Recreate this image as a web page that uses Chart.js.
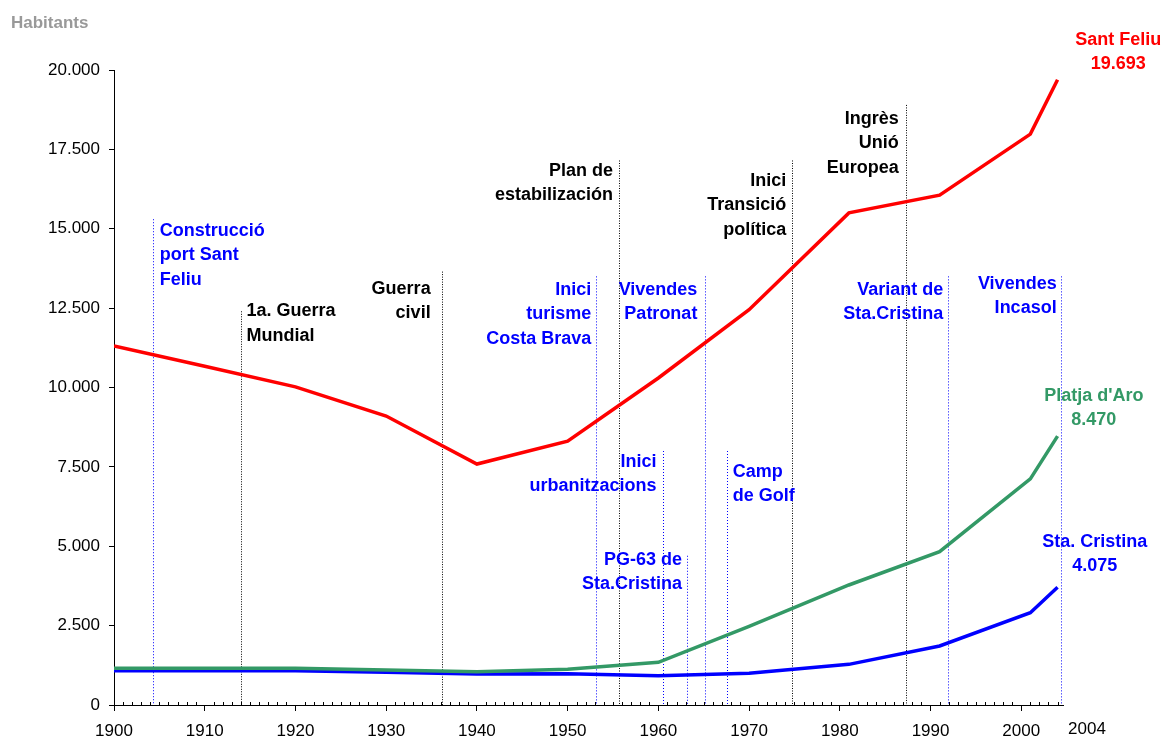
<!DOCTYPE html>
<html lang="ca">
<head>
    <meta charset="UTF-8">
    <title>Habitants Sant Feliu, Platja d'Aro, Sta. Cristina</title>
    <script src="https://cdn.jsdelivr.net/npm/chart.js"></script>
    <style>
        body { margin: 0; background: #ffffff; }
        #wrap { width: 1163px; height: 737px; }
    </style>
</head>
<body>
    <div id="wrap"><canvas id="popChart" width="1163" height="737"></canvas></div>

    <script>
        // census years and population per municipality
        const years = [1900, 1910, 1920, 1930, 1940, 1950, 1960, 1970, 1981, 1991, 2001, 2004];
        const santFeliu = [11310, 10670, 10020, 9100, 7590, 8310, 10300, 12450, 15500, 16060, 17980, 19693];
        const platjaDaro = [1160, 1160, 1160, 1105, 1050, 1125, 1345, 2480, 3780, 4830, 7120, 8470];
        const staCristina = [1080, 1080, 1080, 1030, 975, 985, 925, 1000, 1280, 1860, 2905, 3710];

        const xTicks = [1900, 1910, 1920, 1930, 1940, 1950, 1960, 1970, 1980, 1990, 2000];
        const lastYearLabel = '2004';

        // historical events: year of the dotted line, how high it goes, text
        const eventYears = [1904.3, 1914.0, 1936.2, 1955.7, 1953.1, 1965.1, 1960.5, 1963.2, 1967.6, 1974.7, 1987.3, 1991.9, 2004.4];
        const eventTops = [15300, 12400, 13650, 17150, 13500, 13500, 8000, 4700, 8000, 17150, 18900, 13500, 13500];
        const eventLabels = [
            ['Construcció', 'port Sant', 'Feliu'],
            ['1a. Guerra', 'Mundial'],
            ['Guerra', 'civil'],
            ['Plan de', 'estabilización'],
            ['Inici', 'turisme', 'Costa Brava'],
            ['Vivendes', 'Patronat'],
            ['Inici', 'urbanitzacions'],
            ['PG-63 de', 'Sta.Cristina'],
            ['Camp', 'de Golf'],
            ['Inici', 'Transició', 'política'],
            ['Ingrès', 'Unió', 'Europea'],
            ['Variant de', 'Sta.Cristina'],
            ['Vivendes', 'Incasol']
        ];
        const eventKind = ['local', 'world', 'world', 'world', 'local', 'local', 'local', 'local', 'local', 'world', 'world', 'local', 'local'];
        const labelYears = [1905.05, 1914.6, 1934.9, 1955.0, 1952.6, 1964.3, 1959.8, 1962.6, 1968.2, 1974.1, 1986.5, 1991.4, 2003.9];
        const labelValues = [14929, 12395, 13102, 16819, 13071, 13071, 7654, 4567, 7339, 16504, 18457, 13071, 13260];
        const labelAlign = ['left', 'left', 'right', 'right', 'right', 'right', 'right', 'right', 'left', 'right', 'right', 'right', 'right'];

        // end-of-series labels
        const seriesNames = ['Sant Feliu', "Platja d'Aro", 'Sta. Cristina'];
        const seriesFinal = ['19.693', '8.470', '4.075'];
        const seriesLabelYears = [2010.7, 2008.0, 2008.1];
        const seriesLabelValues = [20945, 9732, 5134];

        const RED = '#ff0000';
        const GREEN = '#339966';
        const BLUE = '#0000ff';
        const seriesColors = [RED, GREEN, BLUE];

        const toPoints = vals => years.map((y, i) => ({ x: y, y: vals[i] }));
        const fmt = v => String(v).replace(/\B(?=(\d{3})+(?!\d))/g, '.');
        const boldFont = 'bold 18px "Liberation Sans", Arial, sans-serif';

        const annotations = {
            id: 'annotations',
            beforeDatasetsDraw(chart) {
                const { ctx, chartArea, scales: { x, y } } = chart;
                ctx.save();
                // dotted event lines
                eventYears.forEach((yr, i) => {
                    const px = Math.round(x.getPixelForValue(yr)) + 0.5;
                    ctx.beginPath();
                    ctx.lineWidth = 1;
                    ctx.strokeStyle = eventKind[i] === 'world' ? '#000000' : BLUE;
                    ctx.setLineDash(eventKind[i] === 'world' ? [1, 1.5] : [1, 2]);
                    ctx.moveTo(px, y.getPixelForValue(eventTops[i]));
                    ctx.lineTo(px, chartArea.bottom);
                    ctx.stroke();
                });
                ctx.setLineDash([]);

                // minor yearly ticks
                ctx.strokeStyle = '#000000';
                ctx.beginPath();
                for (let yr = 1901; yr <= 2004; yr++) {
                    if (yr % 10 === 0) continue;
                    const px = Math.round(x.getPixelForValue(yr)) + 0.5;
                    ctx.moveTo(px, chartArea.bottom);
                    ctx.lineTo(px, chartArea.bottom - 3);
                }
                ctx.stroke();

                // event texts
                ctx.font = boldFont;
                ctx.textBaseline = 'middle';
                eventLabels.forEach((lines, i) => {
                    ctx.fillStyle = eventKind[i] === 'world' ? '#000000' : BLUE;
                    ctx.textAlign = labelAlign[i];
                    const px = x.getPixelForValue(labelYears[i]);
                    const py = y.getPixelForValue(labelValues[i]);
                    lines.forEach((t, j) => ctx.fillText(t, px, py + j * 24.5));
                });

                // series end labels
                ctx.textAlign = 'center';
                seriesNames.forEach((name, i) => {
                    ctx.fillStyle = seriesColors[i];
                    const px = x.getPixelForValue(seriesLabelYears[i]);
                    const py = y.getPixelForValue(seriesLabelValues[i]);
                    ctx.fillText(name, px, py);
                    ctx.fillText(seriesFinal[i], px, py + 24.5);
                });

                // axis title and last year label
                ctx.textAlign = 'left';
                ctx.fillStyle = '#999999';
                ctx.font = 'bold 17px "Liberation Sans", Arial, sans-serif';
                ctx.fillText('Habitants', 11, 23);

                ctx.fillStyle = '#000000';
                ctx.font = '17px "Liberation Sans", Arial, sans-serif';
                ctx.textAlign = 'center';
                ctx.fillText(lastYearLabel, chartArea.right + 24, 729);
                ctx.restore();
            }
        };

        const makeSet = (label, vals, color) => ({
            label: label,
            data: toPoints(vals),
            borderColor: color,
            backgroundColor: color,
            borderWidth: 3.5,
            pointRadius: 0,
            tension: 0,
            fill: false
        });

        new Chart(document.getElementById('popChart'), {
            type: 'line',
            data: {
                datasets: [
                    makeSet(seriesNames[0], santFeliu, RED),
                    makeSet(seriesNames[1], platjaDaro, GREEN),
                    makeSet(seriesNames[2], staCristina, BLUE)
                ]
            },
            options: {
                responsive: false,
                animation: false,
                layout: { padding: { left: 0, right: 100, top: 70, bottom: 0 } },
                plugins: {
                    legend: { display: false },
                    tooltip: { enabled: false }
                },
                scales: {
                    x: {
                        type: 'linear',
                        min: 1900,
                        max: 2004.6,
                        afterBuildTicks: scale => { scale.ticks = xTicks.map(v => ({ value: v })); },
                        afterFit: scale => { scale.height = 32; },
                        border: { color: '#000000', width: 1 },
                        grid: { drawOnChartArea: false, drawTicks: true, tickLength: 6, color: '#000000' },
                        ticks: {
                            color: '#000000',
                            padding: 10,
                            maxRotation: 0,
                            autoSkip: false,
                            font: { family: '"Liberation Sans", Arial, sans-serif', size: 17 },
                            callback: v => String(v)
                        }
                    },
                    y: {
                        min: 0,
                        max: 20000,
                        afterFit: scale => { scale.width = 114; },
                        border: { color: '#000000', width: 1 },
                        grid: { drawOnChartArea: false, drawTicks: true, tickLength: 5, color: '#000000' },
                        ticks: {
                            stepSize: 2500,
                            color: '#000000',
                            padding: 9,
                            font: { family: '"Liberation Sans", Arial, sans-serif', size: 17 },
                            callback: v => fmt(v)
                        }
                    }
                }
            },
            plugins: [annotations]
        });
    </script>
</body>
</html>
